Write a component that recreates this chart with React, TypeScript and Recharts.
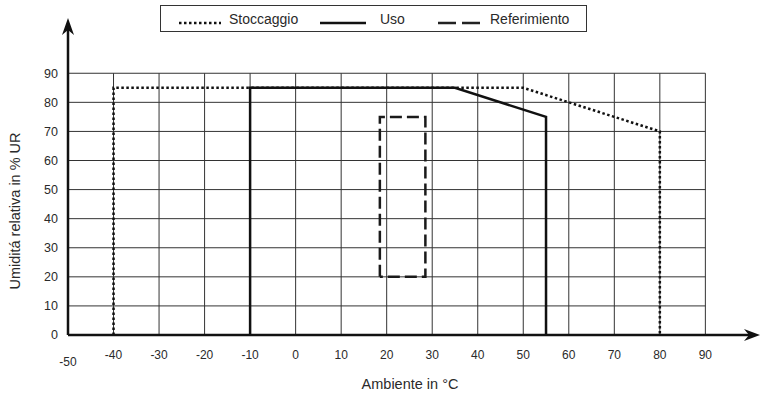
import React from 'react';
import {
  LineChart,
  Line,
  XAxis,
  YAxis,
  ReferenceLine,
  ReferenceDot,
  Label,
} from 'recharts';

const stoccaggio = [
  { x: -40, y: 0 },
  { x: -40, y: 85 },
  { x: 50, y: 85 },
  { x: 80, y: 70 },
  { x: 80, y: 0 },
];

const uso = [
  { x: -10, y: 0 },
  { x: -10, y: 85 },
  { x: 35, y: 85 },
  { x: 55, y: 75 },
  { x: 55, y: 0 },
];

const referimento = [
  { x: 18.5, y: 20 },
  { x: 18.5, y: 75 },
  { x: 28.5, y: 75 },
  { x: 28.5, y: 20 },
  { x: 18.5, y: 20 },
];

const xTicks = [-50, -40, -30, -20, -10, 0, 10, 20, 30, 40, 50, 60, 70, 80, 90];
const yTicks = [0, 10, 20, 30, 40, 50, 60, 70, 80, 90];

const FONT = '"Liberation Sans", Arial, sans-serif';
const GRID = '#333';
const TEXT = '#2a2a2a';

const XTick = ({ x, y, payload }: any) => (
  <text
    x={x}
    y={payload.value === -50 ? y + 7 : y}
    dy="0.355em"
    textAnchor="middle"
    fontSize={12}
    fontFamily={FONT}
    fill={TEXT}
  >
    {payload.value}
  </text>
);

const YTick = ({ x, y, payload }: any) => (
  <text
    x={x}
    y={y}
    dy="0.355em"
    textAnchor="end"
    fontSize={12.5}
    fontFamily={FONT}
    fill={TEXT}
  >
    {payload.value}
  </text>
);

const YTitle = ({ viewBox }: any) => {
  const cx = viewBox.x + 15;
  const cy = viewBox.y + viewBox.height - 124;
  return (
    <text
      x={cx}
      y={cy}
      transform={`rotate(-90 ${cx} ${cy})`}
      textAnchor="middle"
      dominantBaseline="central"
      fontSize={14.5}
      fontFamily={FONT}
      fill={TEXT}
    >
      Umiditá relativa in % UR
    </text>
  );
};

// arrowheads at the ends of both axes
const UpArrow = ({ cx, cy }: any) => (
  <path
    d={`M${cx},${cy} L${cx - 6},${cy + 17} L${cx},${cy + 12} L${cx + 6},${cy + 17} Z`}
    fill="#111"
  />
);

const RightArrow = ({ cx, cy }: any) => (
  <path
    d={`M${cx},${cy} L${cx - 16},${cy - 6} L${cx - 11},${cy} L${cx - 16},${cy + 6} Z`}
    fill="#111"
  />
);

function LegendBox() {
  return (
    <svg
      width={760}
      height={40}
      style={{ position: 'absolute', left: 0, top: 0, pointerEvents: 'none' }}
    >
      <rect x={160.5} y={5.5} width={426} height={26} fill="#fff" stroke="#333" />
      <g fontSize={14} fontFamily={FONT} fill={TEXT}>
        <line x1={179} y1={23} x2={221} y2={23} stroke="#111" strokeWidth={2.5} strokeDasharray="2.5 2.5" />
        <text x={229} y={24}>Stoccaggio</text>
        <line x1={320} y1={23} x2={366} y2={23} stroke="#111" strokeWidth={2.5} />
        <text x={380} y={24}>Uso</text>
        <line x1={438} y1={23} x2={480} y2={23} stroke="#222" strokeWidth={2.5} strokeDasharray="18 6" />
        <text x={490} y={24}>Referimiento</text>
      </g>
    </svg>
  );
}

export default function App() {
  return (
    <div style={{ position: 'absolute', left: 0, top: 0, width: 760, height: 394, background: '#fff' }}>
      <LineChart
        width={760}
        height={394}
        margin={{ top: 18, right: 0, bottom: 0, left: 0 }}
      >
        <XAxis
          type="number"
          dataKey="x"
          domain={[-50, 102]}
          ticks={xTicks}
          interval={0}
          axisLine={false}
          tickLine={false}
          tickSize={0}
          tickMargin={20}
          height={59}
          tick={<XTick />}
        >
          <Label
            value="Ambiente in °C"
            position="insideBottom"
            offset={5}
            fontSize={14.5}
            fontFamily={FONT}
            fill={TEXT}
            dx={-4}
          />
        </XAxis>
        <YAxis
          type="number"
          domain={[0, 109]}
          ticks={yTicks}
          interval={0}
          axisLine={false}
          tickLine={false}
          tickSize={0}
          tickMargin={10}
          width={68}
          tick={<YTick />}
        >
          <Label content={<YTitle />} />
        </YAxis>

        {/* grid, limited to the -50..90 / 0..90 box */}
        {xTicks.slice(1).map((v) => (
          <ReferenceLine
            key={`vx${v}`}
            segment={[{ x: v, y: 0 }, { x: v, y: 90 }]}
            stroke={GRID}
            strokeWidth={1}
          />
        ))}
        {yTicks.slice(1).map((v) => (
          <ReferenceLine
            key={`hy${v}`}
            segment={[{ x: -50, y: v }, { x: 90, y: v }]}
            stroke={GRID}
            strokeWidth={1}
          />
        ))}

        <Line
          data={stoccaggio}
          dataKey="y"
          type="linear"
          stroke="#111"
          strokeWidth={2.5}
          strokeDasharray="2.5 2.5"
          dot={false}
          activeDot={false}
          isAnimationActive={false}
        />
        <Line
          data={uso}
          dataKey="y"
          type="linear"
          stroke="#111"
          strokeWidth={2.5}
          dot={false}
          activeDot={false}
          isAnimationActive={false}
        />
        <Line
          data={referimento}
          dataKey="y"
          type="linear"
          stroke="#1a1a1a"
          strokeWidth={2.5}
          strokeDasharray="12 5"
          dot={false}
          activeDot={false}
          isAnimationActive={false}
        />

        {/* axes with arrows */}
        <ReferenceLine
          segment={[{ x: -50, y: 0 }, { x: -50, y: 105 }]}
          stroke="#111"
          strokeWidth={2.5}
        />
        <ReferenceLine
          segment={[{ x: -50, y: 0 }, { x: 100, y: 0 }]}
          stroke="#111"
          strokeWidth={2.5}
        />
        <ReferenceDot x={-50} y={109} r={0} shape={<UpArrow />} />
        <ReferenceDot x={102} y={0} r={0} shape={<RightArrow />} />
      </LineChart>
      <LegendBox />
    </div>
  );
}
